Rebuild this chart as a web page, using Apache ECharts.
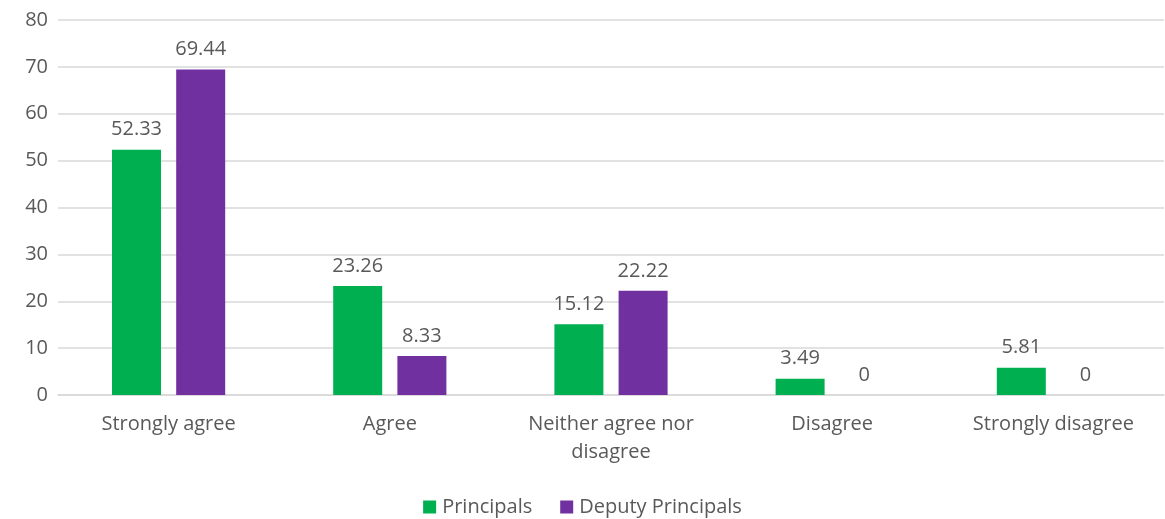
<!DOCTYPE html>
<html><head><meta charset="utf-8">
<script src="https://cdn.jsdelivr.net/npm/echarts@6/dist/echarts.min.js"></script>
<style>html,body{margin:0;padding:0;background:#fff}#c{width:1165px;height:519px}</style>
</head><body><div id="c"></div>
<script>
var categories = ["Strongly agree", "Agree", "Neither agree nor\ndisagree", "Disagree", "Strongly disagree"];
var principals = [52.33, 23.26, 15.12, 3.49, 5.81];
var deputyPrincipals = [69.44, 8.33, 22.22, 0, 0];
var yTicks = {min: 0, max: 80, interval: 10};

var font = "'Open Sans', 'Liberation Sans', sans-serif";
var txt = '#595959';
var chart = echarts.init(document.getElementById('c'));
chart.setOption({
  animation: false,
  textStyle: {fontFamily: font},
  grid: {left: 58, right: 1, top: 20, bottom: 124, containLabel: false},
  legend: {
    top: 495, left: 'center', itemWidth: 13, itemHeight: 13, itemGap: 28,
    icon: 'rect', padding: [2, 5, 0, 5],
    textStyle: {color: txt, fontSize: 20, fontFamily: font, padding: [0,0,0,1]},
    data: ['Principals', 'Deputy Principals']
  },
  xAxis: {
    type: 'category', data: categories,
    axisLine: {show: true, lineStyle: {color: '#d9d9d9', width: 1.5}},
    axisTick: {show: false},
    axisLabel: {color: txt, fontSize: 20, margin: 15, lineHeight: 28, interval: 0}
  },
  yAxis: {
    type: 'value', min: yTicks.min, max: yTicks.max, interval: yTicks.interval,
    axisLine: {show: false}, axisTick: {show: false},
    splitLine: {lineStyle: {color: '#d9d9d9', width: 1.5}},
    axisLabel: {color: txt, fontSize: 20, margin: 10}
  },
  series: [
    {name: 'Principals', type: 'bar', data: principals, barWidth: 49, barGap: '31%',
     itemStyle: {color: '#00B050'},
     label: {show: true, position: 'top', distance: 10, color: txt, fontSize: 20}},
    {name: 'Deputy Principals', type: 'bar', data: deputyPrincipals, barWidth: 49,
     itemStyle: {color: '#7030A0'},
     label: {show: true, position: 'top', distance: 10, color: txt, fontSize: 20}}
  ]
});
</script></body></html>
